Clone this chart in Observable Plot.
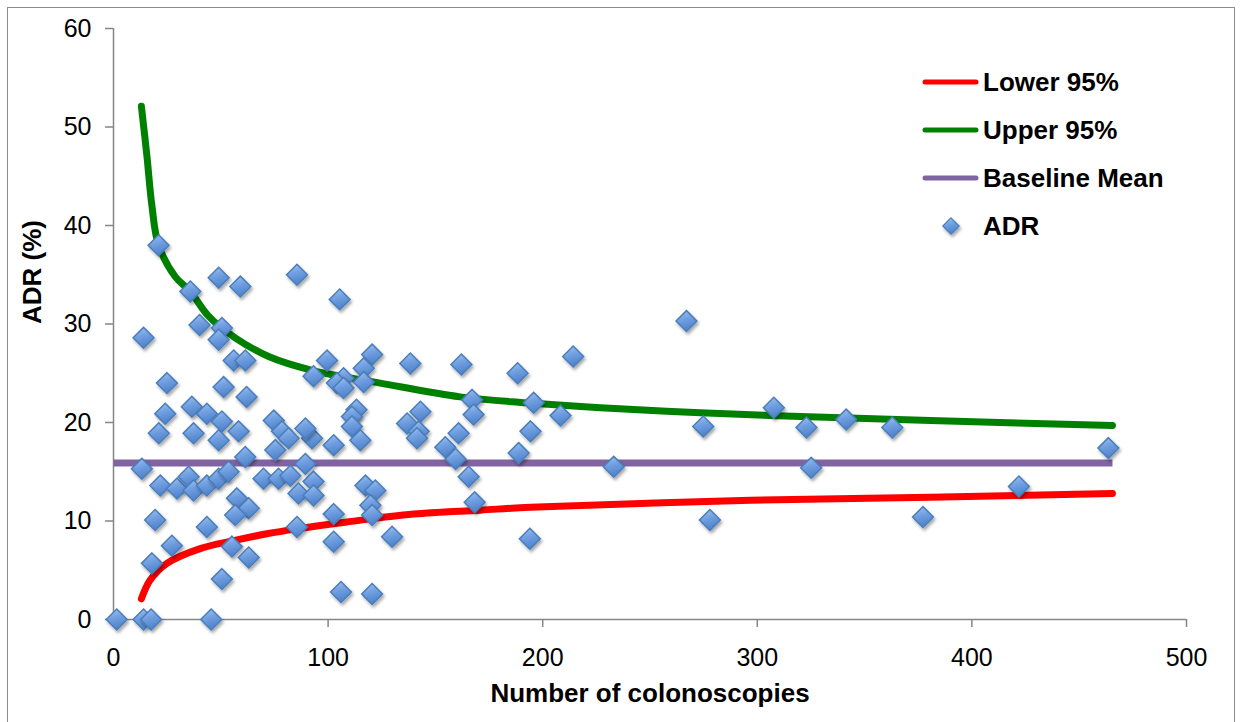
<!DOCTYPE html>
<html>
<head>
<meta charset="utf-8">
<script src="https://cdn.jsdelivr.net/npm/d3@7"></script>
<script src="https://cdn.jsdelivr.net/npm/@observablehq/plot@0.6"></script>
<style>
html,body{margin:0;padding:0;background:#fff;}
#wrap{position:relative;width:1241px;height:722px;overflow:hidden;font-family:"Liberation Sans",Arial,sans-serif;}
#chart svg{display:block;}
#frame{position:absolute;left:7px;top:7px;width:1228px;height:730px;border:1.5px solid #8c8c8c;box-sizing:border-box;pointer-events:none;}
#legend{position:absolute;left:922px;top:58px;}
.item{display:flex;align-items:center;height:48px;font-weight:bold;font-size:26px;color:#000;white-space:nowrap;}
.item svg{flex:none;display:block;}
</style>
</head>
<body>
<div id="wrap"><div id="chart"></div><div id="legend"></div><div id="frame"></div></div>
<script>
// ---- data ----
const adrX = [1.5, 14, 17.5, 45.5, 24.1, 21.1, 36.5, 43.5, 37.3, 50.5, 49, 58.3, 62, 74.7, 78.5, 81.6, 75.4,
  13.2, 61.4, 21.8, 29.6, 35, 37.3, 43.5, 49, 53.6, 69.9, 76.9, 82.4, 86.2, 57.5, 63, 56.7, 19.4, 43.5,
  27.2, 55.2, 63, 17.9, 50.5, 85.5, 21, 35.8, 49, 59.1, 85.5, 14, 40.1, 50.5, 49, 56, 61.4, 24.9, 51.3,
  105.4, 99.5, 93.2, 120.5, 116.6, 107.2, 104.1, 107.2, 116.6, 138.3, 162.1, 188.3, 167.1, 167.8, 113.2,
  111.1, 111.1, 115, 143, 136.8, 142.2, 141.4, 160.8, 154.6, 159.4, 165.5, 168.3, 188.8, 194.3, 92.5,
  89.4, 102.6, 89.4, 93.2, 93.2, 117.4, 122, 119.7, 120.5, 102.6, 102.6, 129.8, 106, 120.5, 194,
  267, 214.2, 195.8, 208.3, 233.1, 274.8, 307.7, 277.9, 322.9, 341.4, 362.9, 325.1, 377.2, 421.9, 463.6];
const adrY = [0, 0, 0, 0, 20.9, 18.9, 21.6, 20.9, 18.9, 20.1, 18.2, 19.1, 22.6, 20.2, 19.1, 18.4, 17.2,
  15.3, 16.5, 13.6, 13.3, 14.5, 13.1, 13.6, 14.3, 15.0, 14.3, 14.3, 14.6, 12.8, 12.3, 11.3, 10.6, 10.1, 9.4,
  7.5, 7.4, 6.3, 5.7, 4.1, 9.4, 38.0, 33.3, 34.7, 33.8, 35.0, 28.6, 29.9, 29.6, 28.4, 26.3, 26.3, 24.0, 23.6,
  32.5, 26.3, 24.7, 26.9, 25.5, 24.5, 24.0, 23.5, 24.1, 26.0, 25.9, 25.0, 22.3, 20.8, 21.3,
  20.6, 19.6, 18.2, 21.1, 19.9, 19.1, 18.4, 18.9, 17.5, 16.3, 14.5, 11.9, 16.9, 19.1, 18.4,
  19.4, 17.7, 15.8, 14.0, 12.6, 13.6, 13.1, 11.6, 10.6, 10.7, 7.9, 8.4, 2.8, 2.6, 8.2,
  30.3, 26.7, 22.0, 20.7, 15.5, 19.6, 21.5, 10.1, 19.5, 20.3, 19.5, 15.4, 10.4, 13.5, 17.4];

const upperX = [13, 15.6, 17.9, 21, 28.8, 35.8, 44.3, 56.7, 72.3, 92.5, 124.3, 161.5, 192.7, 226.8, 273.4, 320.2, 380.7, 465.5];
const upperY = [52.1, 47.0, 42.0, 38.0, 34.8, 33.3, 30.8, 28.6, 26.7, 25.3, 24.0, 22.6, 22.0, 21.5, 21.0, 20.6, 20.2, 19.7];

const lowerX = [13, 17.1, 24.9, 40.4, 56, 71.5, 85.5, 108.8, 139.9, 171, 194.3, 296.8, 380.7, 465.5];
const lowerY = [2.1, 4.0, 5.7, 7.2, 8.0, 8.7, 9.2, 9.9, 10.7, 11.1, 11.4, 12.1, 12.4, 12.8];

const baselineX = [0, 465.5];
const baselineMean = 15.9;

const xTicks = [0, 100, 200, 300, 400, 500];
const yTicks = [0, 10, 20, 30, 40, 50, 60];

const seriesNames = ["Lower 95%", "Upper 95%", "Baseline Mean", "ADR"];
const xTitle = "Number of colonoscopies";
const yTitle = "ADR (%)";

// ---- tables built from the arrays ----
const adr = adrX.map((x, i) => ({x, y: adrY[i]}));
const upper = upperX.map((x, i) => ({x, y: upperY[i]}));
const lower = lowerX.map((x, i) => ({x, y: lowerY[i]}));
const baseline = baselineX.map(x => ({x, y: baselineMean}));

const RED = "#ff0000", GREEN = "#008000", PURPLE = "#8064a2", AXIS = "#868686";

const chart = Plot.plot({
  width: 1241,
  height: 722,
  marginLeft: 113,
  marginRight: 55,
  marginTop: 28,
  marginBottom: 103,
  x: {domain: [0, 500]},
  y: {domain: [0, 60]},
  style: {fontFamily: "'Liberation Sans', Arial, sans-serif", background: "transparent", overflow: "visible"},
  marks: [
    Plot.axisY({ticks: yTicks, tickSize: 8, tickPadding: 14, fontSize: 25, stroke: AXIS, fill: "#000", strokeWidth: 1.5, label: null}),
    Plot.axisX({ticks: xTicks, tickSize: 8, tickPadding: 21, fontSize: 25, stroke: AXIS, fill: "#000", strokeWidth: 1.5, label: null}),
    Plot.ruleX([0], {stroke: AXIS, strokeWidth: 1.5}),
    Plot.ruleY([0], {stroke: AXIS, strokeWidth: 1.5}),
    Plot.line(lower, {x: "x", y: "y", stroke: RED, strokeWidth: 7, curve: "catmull-rom", strokeLinecap: "round"}),
    Plot.line(upper, {x: "x", y: "y", stroke: GREEN, strokeWidth: 7, curve: "catmull-rom", strokeLinecap: "round"}),
    Plot.line(baseline, {x: "x", y: "y", stroke: PURPLE, strokeWidth: 7, strokeLinecap: "butt"}),
    Plot.dot(adr, {x: "x", y: "y", symbol: "diamond2", r: 9.4, fill: "url(#adrFill)", stroke: "#4a7ebb", strokeWidth: 1.5}),
    Plot.text([xTitle], {frameAnchor: "bottom", dy: 74, fontSize: 26, fontWeight: "bold", fill: "#000", lineAnchor: "middle"}),
    Plot.text([yTitle], {frameAnchor: "left", dx: -81, rotate: -90, fontSize: 26, fontWeight: "bold", fill: "#000", lineAnchor: "middle"})
  ]
});

document.getElementById("chart").appendChild(chart);

// gradient + shadow styling for the diamond markers
const svg = d3.select(chart);
const defs = svg.insert("defs", ":first-child");
const grad = defs.append("linearGradient").attr("id", "adrFill")
  .attr("x1", 0).attr("y1", 0).attr("x2", 0.3).attr("y2", 1);
grad.append("stop").attr("offset", "0%").attr("stop-color", "#a9c7f2");
grad.append("stop").attr("offset", "45%").attr("stop-color", "#74a2e2");
grad.append("stop").attr("offset", "100%").attr("stop-color", "#4f83cc");
const filt = defs.append("filter").attr("id", "dshadow")
  .attr("x", "-50%").attr("y", "-50%").attr("width", "200%").attr("height", "200%");
filt.append("feDropShadow").attr("dx", 1.5).attr("dy", 2.5).attr("stdDeviation", 1.6)
  .attr("flood-color", "#000").attr("flood-opacity", 0.35);
svg.selectAll('g[aria-label="dot"] path').attr("filter", "url(#dshadow)");

// legend
const legend = d3.select("#legend");
const items = [
  {name: seriesNames[0], type: "line", color: RED},
  {name: seriesNames[1], type: "line", color: GREEN},
  {name: seriesNames[2], type: "line", color: PURPLE},
  {name: seriesNames[3], type: "dot"}
];
for (const it of items) {
  const row = legend.append("div").attr("class", "item");
  const s = row.append("svg").attr("width", 61).attr("height", 48);
  if (it.type === "line") {
    s.append("line").attr("x1", 3).attr("x2", 54).attr("y1", 24).attr("y2", 24)
      .attr("stroke", it.color).attr("stroke-width", 5).attr("stroke-linecap", "round");
  } else {
    s.append("path").attr("d", d3.symbol(d3.symbolDiamond2, 170)())
      .attr("transform", "translate(29,24)")
      .attr("fill", "url(#adrFill)").attr("stroke", "#4a7ebb").attr("stroke-width", 1.2)
      .attr("filter", "url(#dshadow)");
  }
  row.append("span").text(it.name);
}
</script>
</body>
</html>
